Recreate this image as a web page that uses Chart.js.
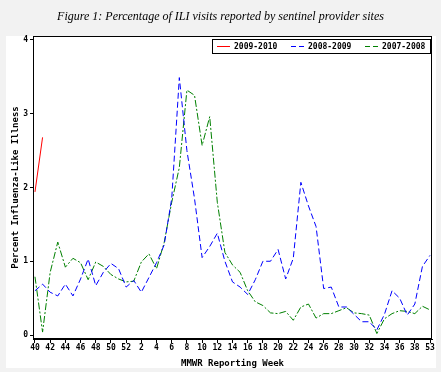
<!DOCTYPE html>
<html>
<head>
<meta charset="utf-8">
<script src="https://cdn.jsdelivr.net/npm/chart.js@4"></script>
<style>
html,body{margin:0;padding:0;background:#f2f2f2;}
#wrap{width:441px;height:372px;position:relative;}
</style>
</head>
<body>
<div id="wrap"><canvas id="c" width="441" height="372"></canvas></div>
<script>
// MMWR week tick labels (every second week, positions 0,2,...,52)
const xTickLabels = ['40','42','44','46','48','50','52','2','4','6','8','10','12','14','16','18','20','22','24','26','28','30','32','34','36','38','53'];
const yTicks = [0, 1, 2, 3, 4];
const seriesNames = ['2009-2010', '2008-2009', '2007-2008'];
const season2009 = [1.94, 2.68];
const season2008 = [0.60,0.69,0.58,0.53,0.69,0.53,0.76,1.03,0.67,0.85,0.97,0.90,0.65,0.74,0.58,0.78,0.98,1.22,1.85,3.49,2.50,1.85,1.05,1.20,1.38,1.00,0.72,0.65,0.55,0.75,1.00,1.00,1.16,0.76,1.04,2.07,1.75,1.47,0.63,0.65,0.38,0.38,0.28,0.18,0.18,0.07,0.28,0.60,0.50,0.27,0.42,0.93,1.08];
const season2007 = [0.79,0.04,0.85,1.26,0.92,1.04,0.98,0.75,0.99,0.93,0.82,0.76,0.72,0.73,0.99,1.10,0.90,1.25,1.80,2.27,3.32,3.25,2.57,2.96,1.80,1.12,0.95,0.85,0.60,0.45,0.40,0.30,0.29,0.32,0.20,0.38,0.42,0.23,0.29,0.29,0.33,0.37,0.30,0.29,0.27,0.02,0.22,0.29,0.33,0.32,0.29,0.39,0.34];

const toPts = arr => arr.map((v, i) => ({x: i, y: v}));
const tickFont = {family: "'DejaVu Sans Mono', monospace", size: 8, weight: 'bold'};
const titleFont = {family: "'DejaVu Sans Mono', monospace", size: 9, weight: 'bold'};

const bgPlugin = {
  id: 'bg',
  beforeDraw(chart) {
    const ctx = chart.ctx;
    ctx.save();
    ctx.fillStyle = '#f2f2f2';
    ctx.fillRect(0, 0, chart.width, chart.height);
    ctx.fillStyle = '#ffffff';
    ctx.fillRect(6, 36, 430, 332);
    ctx.restore();
  },
  afterDraw(chart) {
    const a = chart.chartArea, ctx = chart.ctx;
    ctx.save();
    ctx.strokeStyle = '#000';
    ctx.lineWidth = 1;
    ctx.strokeRect(Math.round(a.left) + 0.5, Math.round(a.top) + 0.5, Math.round(a.right - a.left) - 1, Math.round(a.bottom - a.top) - 1);
    // legend
    const lx = 212.5, ly = 39.5, lw = 218, lh = 14;
    ctx.strokeRect(lx, ly, lw, lh);
    const items = chart.data.datasets;
    const starts = [217, 291, 365];
    ctx.font = "bold 8px 'DejaVu Sans Mono', monospace";
    ctx.textBaseline = 'middle';
    items.forEach((ds, i) => {
      const x0 = starts[i], y = 46.5;
      ctx.beginPath();
      ctx.strokeStyle = ds.borderColor;
      ctx.setLineDash(ds.legendDash || []);
      ctx.moveTo(x0, y);
      ctx.lineTo(x0 + 13, y);
      ctx.stroke();
      ctx.setLineDash([]);
      ctx.fillStyle = '#000';
      ctx.fillText(ds.label, x0 + 17, y + 0.5);
    });
    ctx.restore();
  }
};

new Chart(document.getElementById('c'), {
  type: 'line',
  data: {
    datasets: [
      {label: seriesNames[0], data: toPts(season2009), borderColor: '#ff0000', borderWidth: 1, pointRadius: 0, tension: 0, fill: false, legendDash: []},
      {label: seriesNames[1], data: toPts(season2008), borderColor: '#0000ff', borderWidth: 1, pointRadius: 0, tension: 0, fill: false, borderDash: [6, 3], legendDash: [5, 3]},
      {label: seriesNames[2], data: toPts(season2007), borderColor: '#008000', borderWidth: 1, pointRadius: 0, tension: 0, fill: false, borderDash: [7, 2, 2, 2], legendDash: [5, 3]}
    ]
  },
  options: {
    responsive: false,
    animation: false,
    devicePixelRatio: 1,
    layout: {padding: {left: 9, right: 9, top: 0, bottom: 0}},
    plugins: {
      legend: {display: false},
      tooltip: {enabled: false},
      title: {
        display: true,
        text: 'Figure 1: Percentage of ILI visits reported by sentinel provider sites',
        color: '#000',
        font: {family: "'Liberation Serif', 'DejaVu Serif', serif", size: 12, style: 'italic', weight: 'normal', lineHeight: 1.2},
        padding: {top: 9.3, bottom: 12.3}
      }
    },
    scales: {
      x: {
        type: 'linear',
        min: -0.26,
        max: 52.26,
        afterFit(s) { s.height = 33; },
        afterBuildTicks(s) { s.ticks = xTickLabels.map((t, i) => ({value: i * 2})); },
        ticks: {
          autoSkip: false, maxRotation: 0, minRotation: 0, padding: 0, color: '#000', font: tickFont,
          callback: (v, i) => xTickLabels[i]
        },
        grid: {drawOnChartArea: false, tickLength: 4, color: '#000', tickColor: '#000'},
        border: {display: true, color: '#000'},
        title: {display: true, text: 'MMWR Reporting Week', color: '#000', font: titleFont, padding: {top: 0, bottom: 3}}
      },
      y: {
        type: 'linear',
        min: -0.054,
        max: 4.054,
        afterFit(s) { s.width = 24; },
        afterBuildTicks(s) { s.ticks = yTicks.map(v => ({value: v})); },
        ticks: {padding: 2, color: '#000', font: tickFont, callback: v => String(v)},
        grid: {drawOnChartArea: false, tickLength: 3, color: '#000', tickColor: '#000'},
        border: {display: true, color: '#000'},
        title: {display: true, text: 'Percent Influenza-Like Illness', color: '#000', font: titleFont, padding: {top: 1.6, bottom: 0}}
      }
    }
  },
  plugins: [bgPlugin]
});
</script>
</body>
</html>
